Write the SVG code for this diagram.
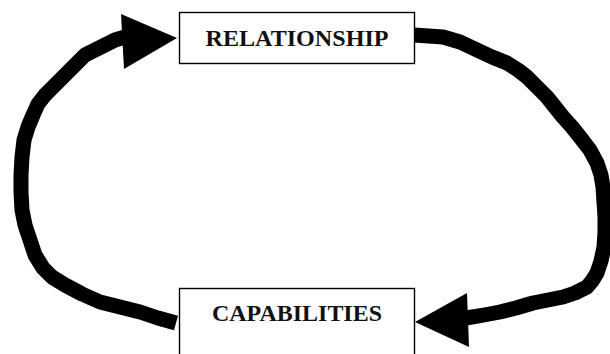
<svg xmlns="http://www.w3.org/2000/svg" width="610" height="354" viewBox="0 0 610 354">
  <style>
    .box { fill: #ffffff; stroke: #000000; stroke-width: 1.4; }
    .label { font-family: "Liberation Serif", "Times New Roman", serif; font-weight: bold; font-size: 23px; fill: #111111; text-anchor: middle; }
    .flow { fill: none; stroke: #000000; stroke-width: 15; stroke-linejoin: round; stroke-linecap: butt; }
    .head { fill: #000000; }
  </style>
  <rect width="610" height="354" fill="#ffffff"/>

  <g id="connectors">
    <!-- CAPABILITIES back up to RELATIONSHIP (left loop) -->
    <path class="flow" d="M176,323 L158,318 L140,312 L120,307 L100,302 L82,294 L65,285 L52,277 L43,268 L35,255 L30,240 L25,225 L22,210 L21,192 L21,175 L22,157 L24,140 L28,127 L33,115 L38,104 L45,95 L55,85 L65,75 L75,65 L85,55 L95,50 L105,45 L115,40 L125,37"/>
    <polygon class="head" points="121,14 177,38 124,69"/>
    <!-- RELATIONSHIP down to CAPABILITIES (right loop) -->
    <path class="flow" d="M414,35 L443,37 L460,42 L477,50 L492,57 L507,63 L518,70 L527,77 L537,87 L547,97 L555,107 L563,117 L572,127 L580,137 L590,150 L597,163 L601,175 L603,187 L604,202 L605,217 L605,232 L604,247 L601,261 L597,273 L592,281 L587,287 L575,293 L563,297 L548,300 L533,303 L516,308 L500,312 L484,315 L466,318"/>
    <polygon class="head" points="467,293 415,322 469,347"/>
  </g>

  <g id="relationship">
    <rect class="box" x="179.5" y="12.5" width="235" height="51"/>
    <text class="label" x="297" y="45.5" textLength="183" lengthAdjust="spacingAndGlyphs">RELATIONSHIP</text>
  </g>

  <g id="capabilities">
    <rect class="box" x="179.5" y="288.5" width="235" height="80"/>
    <text class="label" x="297" y="320.5" textLength="170" lengthAdjust="spacingAndGlyphs">CAPABILITIES</text>
  </g>
</svg>
